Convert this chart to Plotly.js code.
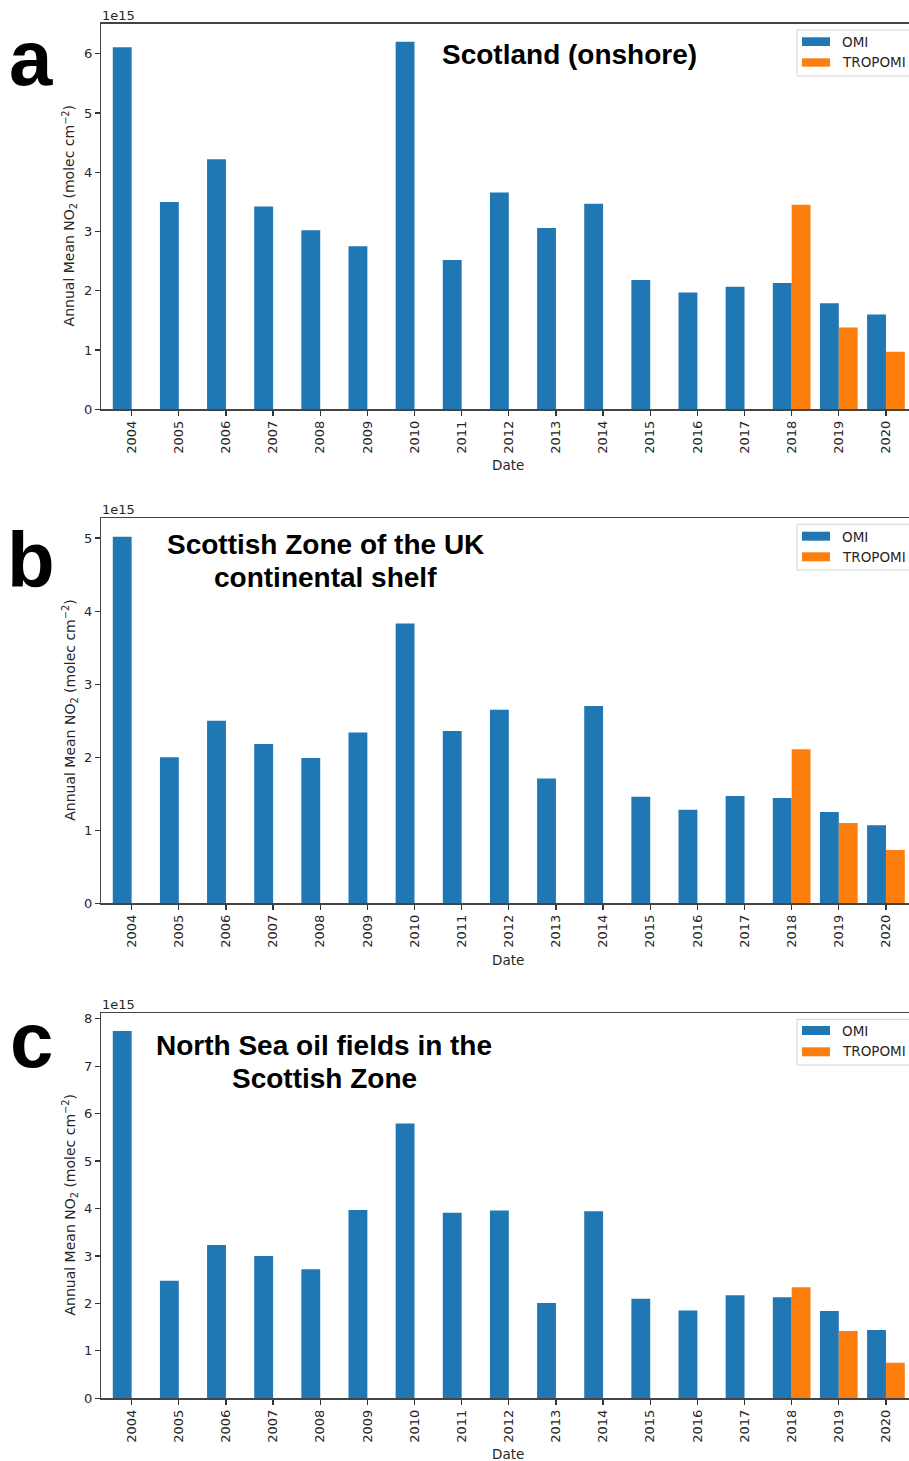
<!DOCTYPE html>
<html><head><meta charset="utf-8">
<script src="https://cdn.plot.ly/plotly-3.0.1.min.js"></script>
<style>html,body{margin:0;padding:0;overflow:hidden;background:#fff}#chart{width:920px;height:1461px}</style>
</head><body><div id="chart"></div>
<script>
// Data (values in units of 1e15 molec cm^-2)
const years = [2004,2005,2006,2007,2008,2009,2010,2011,2012,2013,2014,2015,2016,2017,2018,2019,2020];
const omiScotland     = [6.11,3.50,4.22,3.42,3.02,2.75,6.20,2.52,3.66,3.06,3.47,2.18,1.97,2.07,2.13,1.79,1.60];
const tropomiScotland = [null,null,null,null,null,null,null,null,null,null,null,null,null,null,3.45,1.38,0.97];
const omiShelf        = [5.02,2.00,2.50,2.18,1.99,2.34,3.83,2.36,2.65,1.71,2.70,1.46,1.28,1.47,1.44,1.25,1.07];
const tropomiShelf    = [null,null,null,null,null,null,null,null,null,null,null,null,null,null,2.11,1.10,0.73];
const omiOil          = [7.74,2.48,3.23,3.00,2.72,3.97,5.79,3.91,3.96,2.01,3.94,2.10,1.85,2.17,2.13,1.84,1.44];
const tropomiOil      = [null,null,null,null,null,null,null,null,null,null,null,null,null,null,2.34,1.42,0.75];
const seriesNames = ['OMI','TROPOMI'];
const panelLetters = ['a','b','c'];
const panelTitles = [['Scotland (onshore)'],['Scottish Zone of the UK','continental shelf'],['North Sea oil fields in the','Scottish Zone']];
const yLabel = 'Annual Mean NO<sub>2</sub> (molec cm<sup>\u22122</sup>)';
const xLabel = 'Date';
const offsetText = '1e15';

const W = 920, H = 1461;
const BLUE = '#1f77b4', ORANGE = '#ff7f0e';
const px = x => x / W;
const py = y => 1 - y / H;

const panels = [
  {omi: omiScotland, trop: tropomiScotland, top: 23.5, bottom: 409.3,
   letterY: 58, titleY: [55], titleX: 569.5, offY: 15.5, dateY: 465,
   leg: {top: 30, bot: 76, p1: [37.3, 46], p2: [58.3, 66.7], t1: 42, t2: 62}},
  {omi: omiShelf, trop: tropomiShelf, top: 518.3, bottom: 903.3,
   letterY: 560, titleY: [544, 577], titleX: 325, offY: 510, dateY: 960,
   leg: {top: 524.3, bot: 570, p1: [531.7, 540.7], p2: [552.3, 561.3], t1: 536.7, t2: 556.7}},
  {omi: omiOil, trop: tropomiOil, top: 1012.7, bottom: 1398.3,
   letterY: 1040, titleY: [1045, 1078], titleX: 324, offY: 1004.5, dateY: 1454,
   leg: {top: 1019.3, bot: 1065, p1: [1026, 1035], p2: [1047.3, 1056.3], t1: 1031, t2: 1051}}
];

const traces = [];
const layout = {
  width: W, height: H, margin: {l: 0, r: 0, t: 0, b: 0},
  paper_bgcolor: '#fff', plot_bgcolor: '#fff',
  barmode: 'group', bargap: 0.2, bargroupgap: 0,
  showlegend: false, annotations: [], shapes: [],
  font: {family: 'DejaVu Sans', size: 13, color: '#262626'}
};
const tickFont = {family: 'DejaVu Sans', size: 13, color: '#262626'};

panels.forEach((p, i) => {
  const n = i === 0 ? '' : String(i + 1);
  const xa = 'x' + n, ya = 'y' + n;
  traces.push({type: 'bar', x: years, y: p.omi, name: seriesNames[0], xaxis: xa, yaxis: ya,
    marker: {color: BLUE, line: {width: 0}}, hoverinfo: 'none'});
  traces.push({type: 'bar', x: years, y: p.trop, name: seriesNames[1], xaxis: xa, yaxis: ya,
    marker: {color: ORANGE, line: {width: 0}}, hoverinfo: 'none'});
  const allVals = p.omi.concat(p.trop).filter(v => v !== null);
  const ymax = Math.max(...allVals) * 1.05;
  layout['xaxis' + n] = {
    domain: [px(101), px(916.6)], anchor: ya, range: [years[0] - 0.65, years[years.length - 1] + 0.65],
    tickmode: 'array', tickvals: years, ticktext: years.map(String), tickangle: -90,
    ticks: 'outside', ticklen: 5, tickwidth: 1.2, tickcolor: '#333',
    showline: true, linecolor: '#444', linewidth: 1.2, mirror: true,
    showgrid: false, zeroline: false, tickfont: tickFont, fixedrange: true
  };
  layout['yaxis' + n] = {
    domain: [py(p.bottom), py(p.top)], anchor: xa, range: [0, ymax], dtick: 1,
    ticks: 'outside', ticklen: 5, tickwidth: 1.2, tickcolor: '#333',
    showline: true, linecolor: '#444', linewidth: 1.2,
    showgrid: false, zeroline: false, tickfont: tickFont, fixedrange: true
  };
  const A = layout.annotations, S = layout.shapes;
  // y label
  A.push({xref: 'paper', yref: 'paper', x: px(70), y: py((p.top + p.bottom) / 2 + 0), text: yLabel,
    textangle: -90, showarrow: false, xanchor: 'center', yanchor: 'middle',
    font: {family: 'DejaVu Sans', size: 14, color: '#262626'}});
  // x label
  A.push({xref: 'paper', yref: 'paper', x: px(508), y: py(p.dateY), text: xLabel, showarrow: false,
    xanchor: 'center', yanchor: 'middle', font: {family: 'DejaVu Sans', size: 13.5, color: '#262626'}});
  // offset text
  A.push({xref: 'paper', yref: 'paper', x: px(100), y: py(p.offY), text: offsetText, showarrow: false,
    xanchor: 'left', yanchor: 'middle', font: {family: 'DejaVu Sans', size: 13, color: '#262626'}});
  // panel letter
  A.push({xref: 'paper', yref: 'paper', x: px(31), y: py(p.letterY), text: '<b>' + panelLetters[i] + '</b>',
    showarrow: false, xanchor: 'center', yanchor: 'middle',
    font: {family: 'Liberation Sans', size: 78, color: '#000'}});
  // panel title lines
  panelTitles[i].forEach((t, k) => {
    A.push({xref: 'paper', yref: 'paper', x: px(p.titleX), y: py(p.titleY[k]), text: '<b>' + t + '</b>',
      showarrow: false, xanchor: 'center', yanchor: 'middle',
      font: {family: 'Liberation Sans', size: 28, color: '#000'}});
  });
  // legend
  const L = p.leg;
  S.push({type: 'rect', xref: 'paper', yref: 'paper', x0: px(797), x1: px(918), y0: py(L.bot), y1: py(L.top),
    line: {color: '#d4d4d4', width: 1}, fillcolor: 'rgba(255,255,255,0.8)'});
  S.push({type: 'rect', xref: 'paper', yref: 'paper', x0: px(802), x1: px(830), y0: py(L.p1[1]), y1: py(L.p1[0]),
    line: {width: 0}, fillcolor: BLUE});
  S.push({type: 'rect', xref: 'paper', yref: 'paper', x0: px(802), x1: px(830), y0: py(L.p2[1]), y1: py(L.p2[0]),
    line: {width: 0}, fillcolor: ORANGE});
  A.push({xref: 'paper', yref: 'paper', x: px(840), y: py(L.t1), text: seriesNames[0], showarrow: false,
    xanchor: 'left', yanchor: 'middle', font: {family: 'DejaVu Sans', size: 13.5, color: '#262626'}});
  A.push({xref: 'paper', yref: 'paper', x: px(840), y: py(L.t2), text: seriesNames[1], showarrow: false,
    xanchor: 'left', yanchor: 'middle', font: {family: 'DejaVu Sans', size: 13.5, color: '#262626'}});
});

Plotly.newPlot('chart', traces, layout, {staticPlot: true, displayModeBar: false});
</script></body></html>
